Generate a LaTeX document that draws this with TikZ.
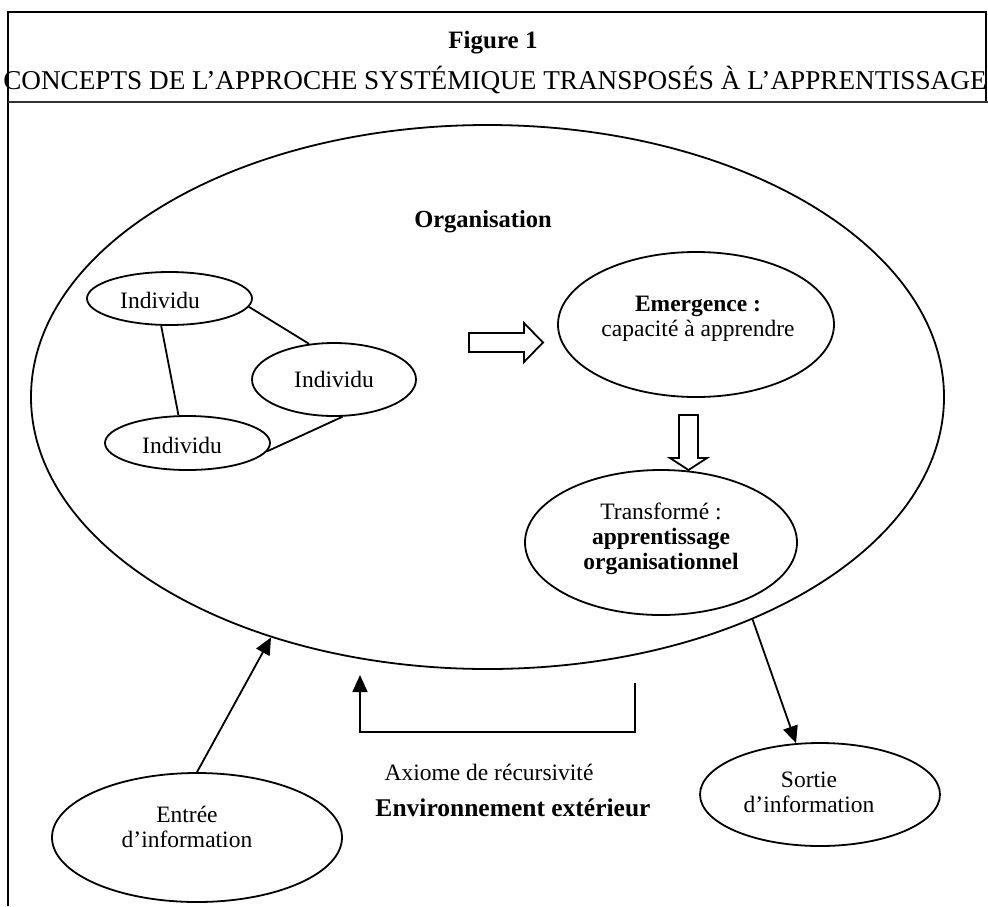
\documentclass[tikz,border=0pt]{standalone}
\usepackage{fontspec}
\setmainfont{Liberation Serif}
\usetikzlibrary{shapes.geometric,arrows.meta}
\tikzset{
  oval/.style={draw, ellipse, line width=1.8pt, inner sep=0pt},
  txt/.style={align=center, inner sep=0pt, font=\fontsize{23.5}{25}\selectfont},
  btxt/.style={align=center, inner sep=0pt, font=\fontsize{24.5}{26}\selectfont\bfseries},
  link/.style={line width=1.8pt},
  arr/.style={line width=1.8pt, -{Triangle[length=17pt,width=15pt]}},
  blockarrow/.style={draw, line width=1.8pt, fill=white, line join=miter},
  frame/.style={line width=1.6pt}
}
\begin{document}
\begin{tikzpicture}[x=1pt,y=-1pt]
\useasboundingbox (0,0) rectangle (988,906);
% frame
\draw[frame] (8,906) -- (8,12) -- (986,12) -- (986,102);
\draw[line width=2.4pt, black!80] (8,102) -- (988,102);
\node[inner sep=0pt, font=\fontsize{25}{27}\selectfont\bfseries] (fig) at (493,43) {Figure 1};
\node[inner sep=0pt, font=\fontsize{27.2}{29}\selectfont] (title) at (495,80) {CONCEPTS DE L’APPROCHE SYSTÉMIQUE TRANSPOSÉS À L’APPRENTISSAGE};

% big ellipse
\node[oval, minimum width=913pt, minimum height=544pt] (org) at (487.5,397) {};
\node[btxt] (orgtxt) at (483,222) {Organisation};

% individus
\node[oval, minimum width=165pt, minimum height=53pt] (ind1) at (169.5,298.5) {};
\node[txt] (ind1t) at (160,300) {Individu};
\node[oval, minimum width=164pt, minimum height=73pt] (ind2) at (334,379.5) {};
\node[txt] (ind2t) at (334,379) {Individu};
\node[oval, minimum width=165pt, minimum height=54pt] (ind3) at (187.5,443) {};
\node[txt] (ind3t) at (182,445) {Individu};

\draw[link] (ind1.-6.2) -- (ind2.125.5);
\draw[link] (ind1.253.7) -- (ind3.108.6);
\draw[link] (ind3.-6.2) -- (ind2.-77.6);

% emergence
\node[oval, minimum width=276pt, minimum height=145pt] (emer) at (696,324.5) {};
\node[txt] (emert) at (698,319) {\textbf{Emergence :}\\capacité à apprendre};

% transforme
\node[oval, minimum width=272pt, minimum height=145pt] (trans) at (661,542.5) {};
\node[txt] (transt) at (661,539) {Transformé :\\\textbf{apprentissage}\\\textbf{organisationnel}};

% block arrows
\draw[blockarrow] (469,333) -- (524,333) -- (524,323) -- (543,342.5) -- (524,362) -- (524,352) -- (469,352) -- cycle;
\draw[blockarrow] (679,415) -- (698,415) -- (698,458) -- (707,458) -- (688.5,470) -- (670,458) -- (679,458) -- cycle;

% sortie & entree
\node[oval, minimum width=240pt, minimum height=103pt] (sortie) at (820,794.5) {};
\node[txt] (sortiet) at (809,792) {Sortie\\d’information};
\node[oval, minimum width=290pt, minimum height=129pt] (entree) at (197,837.5) {};
\node[txt] (entreet) at (187,827) {Entrée\\d’information};

\draw[arr] (org.-40.4) -- (sortie.115.5);
\draw[arr] (entree.north) -- (org.228.8);

% recursion
\coordinate (recA) at (635,683);
\coordinate (recB) at (360,675);
\draw[arr, line join=miter] (recA) -- ++(0,49) -| (recB);
\node[txt] (axiome) at (489,772) {Axiome de récursivité};
\node[btxt, font=\fontsize{25.5}{27}\selectfont\bfseries] (env) at (513,808) {Environnement extérieur};
\end{tikzpicture}
\end{document}
